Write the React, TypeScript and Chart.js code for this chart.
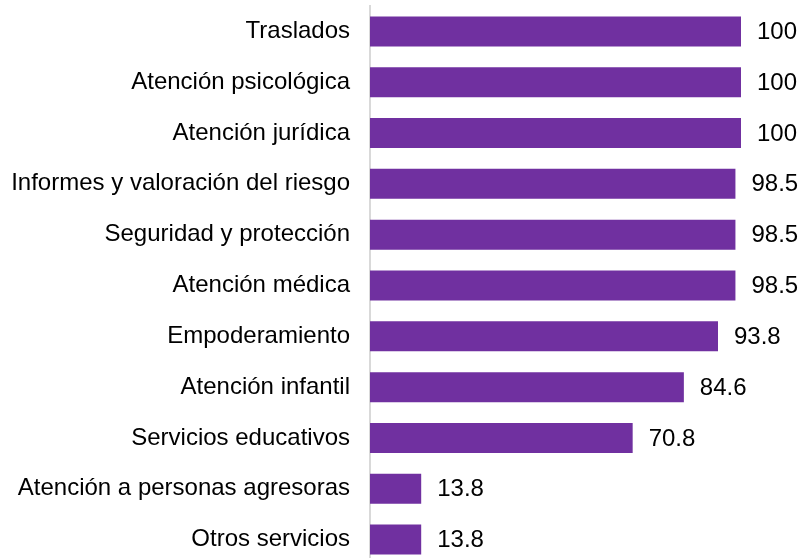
import React, { useEffect, useRef } from "react";
import { Chart, registerables } from "chart.js";

Chart.register(...registerables);

const categories: string[] = [
  "Traslados",
  "Atención psicológica",
  "Atención jurídica",
  "Informes y valoración del riesgo",
  "Seguridad y protección",
  "Atención médica",
  "Empoderamiento",
  "Atención infantil",
  "Servicios educativos",
  "Atención a personas agresoras",
  "Otros servicios",
];

const values: number[] = [100, 100, 100, 98.5, 98.5, 98.5, 93.8, 84.6, 70.8, 13.8, 13.8];

const FONT = "'Liberation Sans', Arial, sans-serif";
const BAR_COLOR = "#7030A0";

const valueLabels = {
  id: "valueLabels",
  afterDatasetsDraw(chart: any) {
    const ctx = chart.ctx;
    const meta = chart.getDatasetMeta(0);
    ctx.save();
    ctx.font = `24px ${FONT}`;
    ctx.fillStyle = "#000000";
    ctx.textAlign = "left";
    ctx.textBaseline = "middle";
    meta.data.forEach((bar: any, i: number) => {
      const v = chart.data.datasets[0].data[i];
      ctx.fillText(String(v), bar.x + 16, bar.y + 1);
    });
    ctx.restore();
  },
};

export default function App() {
  const ref = useRef<HTMLCanvasElement | null>(null);

  useEffect(() => {
    document.body.style.margin = "0";
    document.body.style.overflow = "hidden";
    const canvas = ref.current;
    if (!canvas) return;
    const chart = new Chart(canvas, {
      type: "bar",
      data: {
        labels: categories,
        datasets: [
          {
            data: values,
            backgroundColor: BAR_COLOR,
            borderWidth: 0,
            barPercentage: 0.59,
            categoryPercentage: 1,
          },
        ],
      },
      options: {
        indexAxis: "y",
        responsive: false,
        animation: false,
        devicePixelRatio: 1,
        layout: { padding: { top: 6, right: 58, bottom: 0, left: 0 } },
        plugins: {
          legend: { display: false },
          tooltip: { enabled: false },
        },
        scales: {
          x: {
            display: false,
            min: 0,
            max: 100,
          },
          y: {
            afterFit: (scale: any) => {
              scale.width = 370;
              scale.paddingTop = 0;
              scale.paddingBottom = 0;
            },
            grid: { display: false, drawTicks: false },
            border: { display: true, color: "#d9d9d9", width: 2 },
            ticks: {
              color: "#000000",
              padding: 20,
              font: { family: FONT, size: 24 },
            },
          },
        },
      },
      plugins: [valueLabels],
    });
    return () => chart.destroy();
  }, []);

  return (
    <div style={{ position: "absolute", left: 0, top: 0, width: 799, height: 558, overflow: "hidden" }}>
      <canvas ref={ref} width={799} height={565} style={{ display: "block", width: 799, height: 565 }} />
    </div>
  );
}
